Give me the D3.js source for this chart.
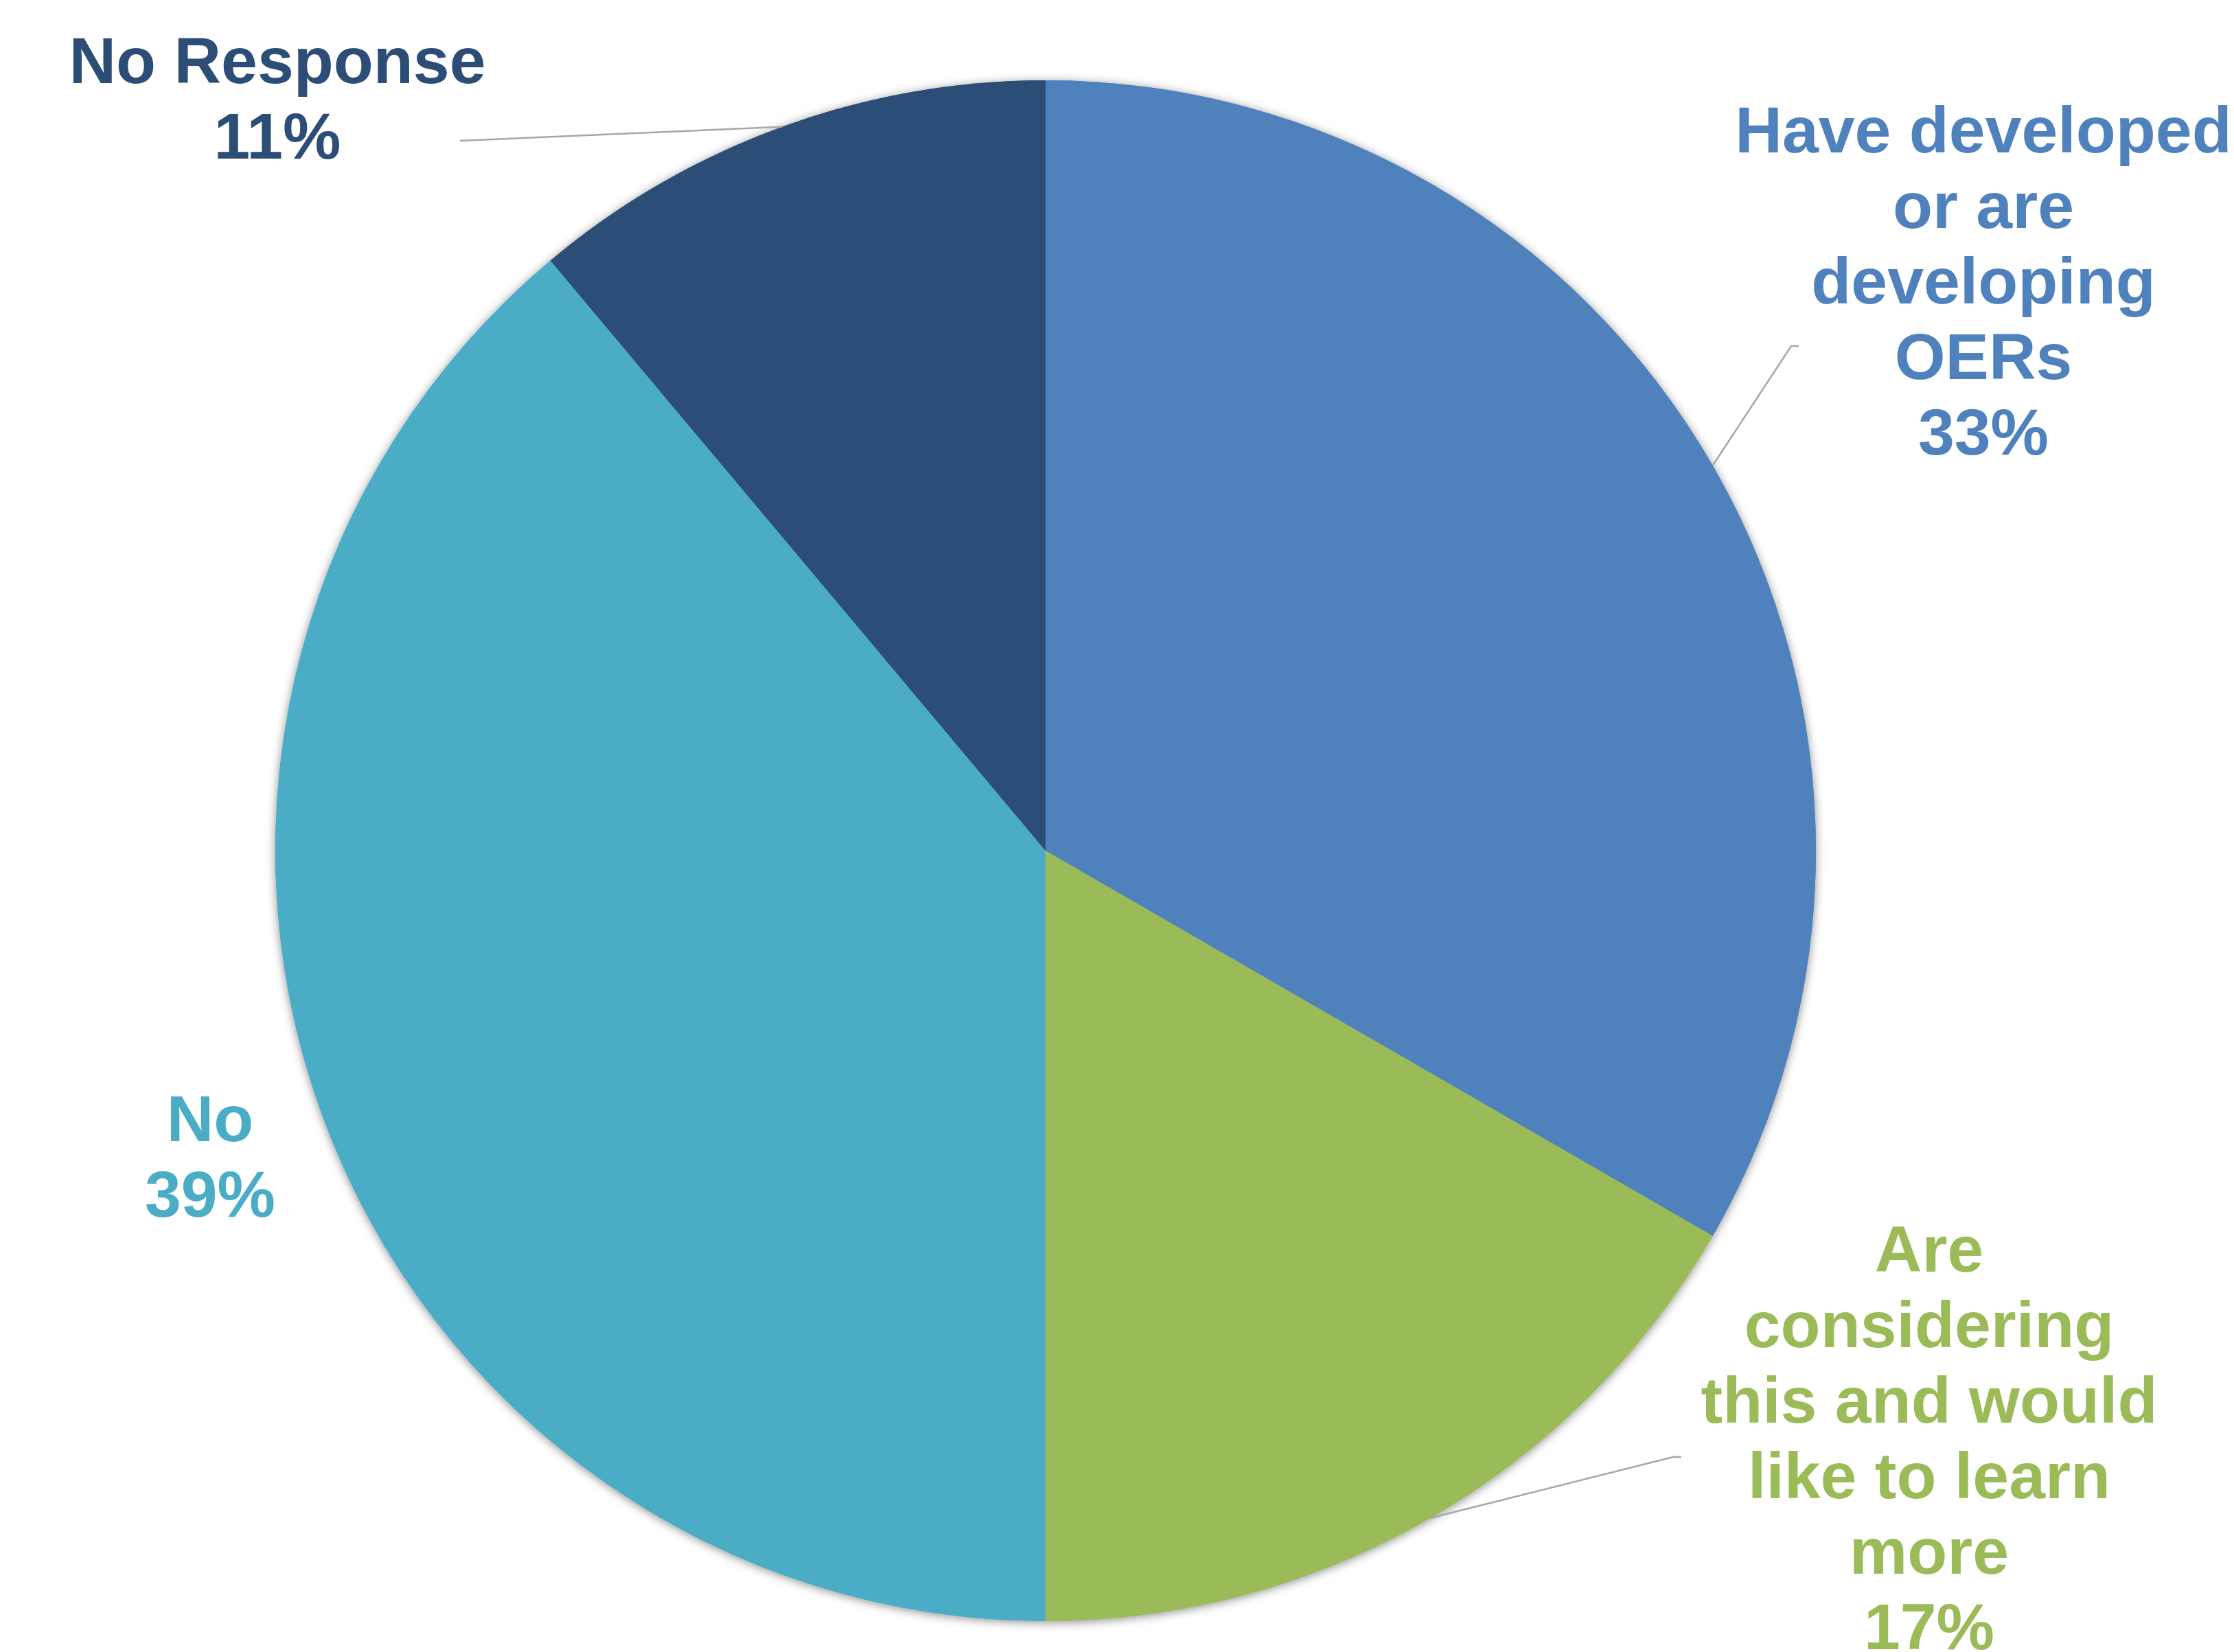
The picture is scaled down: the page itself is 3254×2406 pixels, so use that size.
<!DOCTYPE html>
<html>
<head>
<meta charset="utf-8">
<script src="https://cdn.jsdelivr.net/npm/d3@7"></script>
<style>
  body { margin: 0; background: #fff; }
  text { font-family: "Liberation Sans", Arial, sans-serif; font-weight: bold; }
</style>
</head>
<body>
<svg width="3254" height="2406"></svg>
<script>
// data, clockwise from 12 o'clock (response counts, 18 in total)
const categories = ["Have developed or are developing OERs", "Are considering this and would like to learn more", "No", "No Response"];
const counts = [6, 3, 7, 2];
const labelLines = [
    ["Have developed", "or are", "developing", "OERs"],
    ["Are", "considering", "this and would", "like to learn", "more"],
    ["No"],
    ["No Response"]
];
const colors = ["#4F81BD", "#9BBB59", "#4BACC6", "#2C4D75"];

const svg = d3.select("svg");
const cx = 1523, cy = 1239, r = 1122;
const lineH = 110;
const total = d3.sum(counts);
const pct = d3.format(".0%");

// label spots: centre x, first baseline, leader start (null = no leader)
const labelPos = [
    { x: 2889, y: 222, lead: [[2620, 504], [2609, 504]] },
    { x: 2810, y: 1852, lead: [[2449, 2122], [2437, 2122]] },
    { x: 306, y: 1662, lead: null },
    { x: 404, y: 121, lead: [[670, 205]] }
];

const defs = svg.append("defs");
defs.append("filter")
    .attr("id", "shadow")
    .attr("x", "-20%").attr("y", "-20%")
    .attr("width", "140%").attr("height", "140%")
    .append("feDropShadow")
    .attr("dx", 0).attr("dy", 2)
    .attr("stdDeviation", 7)
    .attr("flood-color", "#000")
    .attr("flood-opacity", 0.45);

const pie = d3.pie().sort(null).value(d => d)(counts);
const arc = d3.arc().innerRadius(0).outerRadius(r);
const edge = d3.arc().innerRadius(r).outerRadius(r);

const g = svg.append("g").attr("transform", `translate(${cx},${cy})`);

// shadow layer first, then the slices on top
g.append("g").selectAll("path")
    .data(pie)
    .join("path")
    .attr("d", arc)
    .attr("fill", (d, i) => colors[i])
    .attr("filter", "url(#shadow)");

g.append("g").selectAll("path")
    .data(pie)
    .join("path")
    .attr("d", arc)
    .attr("fill", (d, i) => colors[i]);

// leader lines
pie.forEach((d, i) => {
    const p = labelPos[i];
    if (!p.lead) return;
    const c = edge.centroid(d);
    const pts = p.lead.concat([[cx + c[0], cy + c[1]]]);
    svg.append("path")
        .attr("d", d3.line()(pts))
        .attr("fill", "none")
        .attr("stroke", "#a6a6a6")
        .attr("stroke-width", 2.5);
});

// labels
labelLines.forEach((lines, i) => {
    const p = labelPos[i];
    const t = svg.append("text")
        .attr("x", p.x)
        .attr("y", p.y)
        .attr("text-anchor", "middle")
        .attr("font-size", 95)
        .attr("fill", colors[i]);
    lines.concat([pct(counts[i] / total)]).forEach((s, k) => {
        t.append("tspan")
            .attr("x", p.x)
            .attr("y", p.y + k * lineH)
            .text(s);
    });
});
</script>
</body>
</html>
